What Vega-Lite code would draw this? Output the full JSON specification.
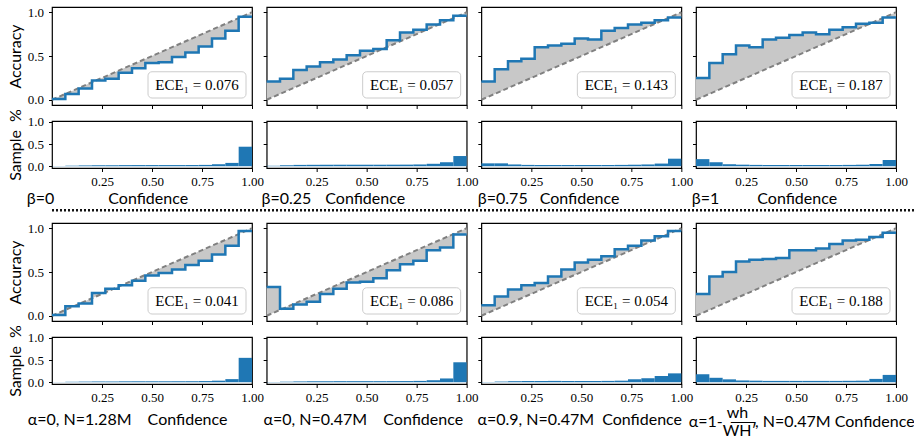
{
  "$schema": "https://vega.github.io/schema/vega-lite/v6.json",
  "background": "white",
  "padding": {"left": 6, "top": 5, "right": 0, "bottom": 0},
  "datasets": {
    "edges": [
      {"i": 1, "x0": 0, "x1": 0.0667}, {"i": 2, "x0": 0.0667, "x1": 0.1333}, {"i": 3, "x0": 0.1333, "x1": 0.2},
      {"i": 4, "x0": 0.2, "x1": 0.2667}, {"i": 5, "x0": 0.2667, "x1": 0.3333}, {"i": 6, "x0": 0.3333, "x1": 0.4},
      {"i": 7, "x0": 0.4, "x1": 0.4667}, {"i": 8, "x0": 0.4667, "x1": 0.5333}, {"i": 9, "x0": 0.5333, "x1": 0.6},
      {"i": 10, "x0": 0.6, "x1": 0.6667}, {"i": 11, "x0": 0.6667, "x1": 0.7333}, {"i": 12, "x0": 0.7333, "x1": 0.8},
      {"i": 13, "x0": 0.8, "x1": 0.8667}, {"i": 14, "x0": 0.8667, "x1": 0.9333}, {"i": 15, "x0": 0.9333, "x1": 1}
    ],
    "ece": [
      {"g": "b0", "ece": 0.076}, {"g": "b025", "ece": 0.057}, {"g": "b075", "ece": 0.143}, {"g": "b1", "ece": 0.187},
      {"g": "a0l", "ece": 0.041}, {"g": "a0s", "ece": 0.086}, {"g": "a09", "ece": 0.054}, {"g": "aw", "ece": 0.188}
    ],
    "bins": [
      {"g": "b0", "i": 1, "acc": 0.01, "n": 0.004}, {"g": "b0", "i": 2, "acc": 0.065, "n": 0.012}, {"g": "b0", "i": 3, "acc": 0.13, "n": 0.018},
      {"g": "b0", "i": 4, "acc": 0.22, "n": 0.022}, {"g": "b0", "i": 5, "acc": 0.24, "n": 0.024}, {"g": "b0", "i": 6, "acc": 0.31, "n": 0.025},
      {"g": "b0", "i": 7, "acc": 0.36, "n": 0.026}, {"g": "b0", "i": 8, "acc": 0.42, "n": 0.026}, {"g": "b0", "i": 9, "acc": 0.43, "n": 0.026},
      {"g": "b0", "i": 10, "acc": 0.49, "n": 0.026}, {"g": "b0", "i": 11, "acc": 0.54, "n": 0.027}, {"g": "b0", "i": 12, "acc": 0.61, "n": 0.03},
      {"g": "b0", "i": 13, "acc": 0.70, "n": 0.045}, {"g": "b0", "i": 14, "acc": 0.79, "n": 0.075}, {"g": "b0", "i": 15, "acc": 0.95, "n": 0.44},

      {"g": "b025", "i": 1, "acc": 0.21, "n": 0.01}, {"g": "b025", "i": 2, "acc": 0.24, "n": 0.022}, {"g": "b025", "i": 3, "acc": 0.34, "n": 0.03},
      {"g": "b025", "i": 4, "acc": 0.38, "n": 0.032}, {"g": "b025", "i": 5, "acc": 0.43, "n": 0.034}, {"g": "b025", "i": 6, "acc": 0.46, "n": 0.034},
      {"g": "b025", "i": 7, "acc": 0.51, "n": 0.034}, {"g": "b025", "i": 8, "acc": 0.56, "n": 0.034}, {"g": "b025", "i": 9, "acc": 0.58, "n": 0.034},
      {"g": "b025", "i": 10, "acc": 0.68, "n": 0.035}, {"g": "b025", "i": 11, "acc": 0.77, "n": 0.036}, {"g": "b025", "i": 12, "acc": 0.80, "n": 0.04},
      {"g": "b025", "i": 13, "acc": 0.86, "n": 0.055}, {"g": "b025", "i": 14, "acc": 0.91, "n": 0.09}, {"g": "b025", "i": 15, "acc": 0.96, "n": 0.23},

      {"g": "b075", "i": 1, "acc": 0.21, "n": 0.065}, {"g": "b075", "i": 2, "acc": 0.35, "n": 0.065}, {"g": "b075", "i": 3, "acc": 0.44, "n": 0.04},
      {"g": "b075", "i": 4, "acc": 0.47, "n": 0.03}, {"g": "b075", "i": 5, "acc": 0.60, "n": 0.028}, {"g": "b075", "i": 6, "acc": 0.62, "n": 0.028},
      {"g": "b075", "i": 7, "acc": 0.64, "n": 0.028}, {"g": "b075", "i": 8, "acc": 0.70, "n": 0.028}, {"g": "b075", "i": 9, "acc": 0.69, "n": 0.028},
      {"g": "b075", "i": 10, "acc": 0.79, "n": 0.028}, {"g": "b075", "i": 11, "acc": 0.82, "n": 0.03}, {"g": "b075", "i": 12, "acc": 0.86, "n": 0.034},
      {"g": "b075", "i": 13, "acc": 0.88, "n": 0.04}, {"g": "b075", "i": 14, "acc": 0.91, "n": 0.06}, {"g": "b075", "i": 15, "acc": 0.94, "n": 0.17},

      {"g": "b1", "i": 1, "acc": 0.25, "n": 0.16}, {"g": "b1", "i": 2, "acc": 0.42, "n": 0.09}, {"g": "b1", "i": 3, "acc": 0.52, "n": 0.045},
      {"g": "b1", "i": 4, "acc": 0.62, "n": 0.035}, {"g": "b1", "i": 5, "acc": 0.60, "n": 0.03}, {"g": "b1", "i": 6, "acc": 0.69, "n": 0.028},
      {"g": "b1", "i": 7, "acc": 0.71, "n": 0.028}, {"g": "b1", "i": 8, "acc": 0.74, "n": 0.028}, {"g": "b1", "i": 9, "acc": 0.77, "n": 0.028},
      {"g": "b1", "i": 10, "acc": 0.75, "n": 0.028}, {"g": "b1", "i": 11, "acc": 0.80, "n": 0.028}, {"g": "b1", "i": 12, "acc": 0.83, "n": 0.03},
      {"g": "b1", "i": 13, "acc": 0.87, "n": 0.034}, {"g": "b1", "i": 14, "acc": 0.88, "n": 0.05}, {"g": "b1", "i": 15, "acc": 0.94, "n": 0.14},

      {"g": "a0l", "i": 1, "acc": 0.01, "n": 0.003}, {"g": "a0l", "i": 2, "acc": 0.11, "n": 0.01}, {"g": "a0l", "i": 3, "acc": 0.14, "n": 0.014},
      {"g": "a0l", "i": 4, "acc": 0.26, "n": 0.017}, {"g": "a0l", "i": 5, "acc": 0.31, "n": 0.019}, {"g": "a0l", "i": 6, "acc": 0.35, "n": 0.02},
      {"g": "a0l", "i": 7, "acc": 0.40, "n": 0.021}, {"g": "a0l", "i": 8, "acc": 0.46, "n": 0.021}, {"g": "a0l", "i": 9, "acc": 0.49, "n": 0.021},
      {"g": "a0l", "i": 10, "acc": 0.53, "n": 0.022}, {"g": "a0l", "i": 11, "acc": 0.58, "n": 0.023}, {"g": "a0l", "i": 12, "acc": 0.63, "n": 0.026},
      {"g": "a0l", "i": 13, "acc": 0.70, "n": 0.035}, {"g": "a0l", "i": 14, "acc": 0.80, "n": 0.07}, {"g": "a0l", "i": 15, "acc": 0.97, "n": 0.55},

      {"g": "a0s", "i": 1, "acc": 0.33, "n": 0.005}, {"g": "a0s", "i": 2, "acc": 0.08, "n": 0.012}, {"g": "a0s", "i": 3, "acc": 0.13, "n": 0.018},
      {"g": "a0s", "i": 4, "acc": 0.16, "n": 0.022}, {"g": "a0s", "i": 5, "acc": 0.25, "n": 0.024}, {"g": "a0s", "i": 6, "acc": 0.31, "n": 0.024},
      {"g": "a0s", "i": 7, "acc": 0.38, "n": 0.024}, {"g": "a0s", "i": 8, "acc": 0.39, "n": 0.024}, {"g": "a0s", "i": 9, "acc": 0.43, "n": 0.024},
      {"g": "a0s", "i": 10, "acc": 0.52, "n": 0.025}, {"g": "a0s", "i": 11, "acc": 0.59, "n": 0.026}, {"g": "a0s", "i": 12, "acc": 0.63, "n": 0.03},
      {"g": "a0s", "i": 13, "acc": 0.75, "n": 0.045}, {"g": "a0s", "i": 14, "acc": 0.78, "n": 0.085}, {"g": "a0s", "i": 15, "acc": 0.93, "n": 0.45},

      {"g": "a09", "i": 1, "acc": 0.12, "n": 0.005}, {"g": "a09", "i": 2, "acc": 0.22, "n": 0.015}, {"g": "a09", "i": 3, "acc": 0.30, "n": 0.024},
      {"g": "a09", "i": 4, "acc": 0.35, "n": 0.028}, {"g": "a09", "i": 5, "acc": 0.375, "n": 0.03}, {"g": "a09", "i": 6, "acc": 0.45, "n": 0.03},
      {"g": "a09", "i": 7, "acc": 0.53, "n": 0.028}, {"g": "a09", "i": 8, "acc": 0.61, "n": 0.028}, {"g": "a09", "i": 9, "acc": 0.64, "n": 0.028},
      {"g": "a09", "i": 10, "acc": 0.68, "n": 0.03}, {"g": "a09", "i": 11, "acc": 0.76, "n": 0.035}, {"g": "a09", "i": 12, "acc": 0.80, "n": 0.067},
      {"g": "a09", "i": 13, "acc": 0.86, "n": 0.09}, {"g": "a09", "i": 14, "acc": 0.91, "n": 0.14}, {"g": "a09", "i": 15, "acc": 0.97, "n": 0.2},

      {"g": "aw", "i": 1, "acc": 0.25, "n": 0.18}, {"g": "aw", "i": 2, "acc": 0.45, "n": 0.1}, {"g": "aw", "i": 3, "acc": 0.50, "n": 0.065},
      {"g": "aw", "i": 4, "acc": 0.62, "n": 0.04}, {"g": "aw", "i": 5, "acc": 0.64, "n": 0.035}, {"g": "aw", "i": 6, "acc": 0.65, "n": 0.03},
      {"g": "aw", "i": 7, "acc": 0.66, "n": 0.03}, {"g": "aw", "i": 8, "acc": 0.75, "n": 0.03}, {"g": "aw", "i": 9, "acc": 0.75, "n": 0.03},
      {"g": "aw", "i": 10, "acc": 0.77, "n": 0.03}, {"g": "aw", "i": 11, "acc": 0.82, "n": 0.03}, {"g": "aw", "i": 12, "acc": 0.86, "n": 0.032},
      {"g": "aw", "i": 13, "acc": 0.87, "n": 0.035}, {"g": "aw", "i": 14, "acc": 0.90, "n": 0.075}, {"g": "aw", "i": 15, "acc": 0.95, "n": 0.165}
    ]
  },
  "config": {
    "view": {"stroke": "black", "strokeWidth": 1.2},
    "style": {"guide-label": {"font": "Liberation Serif"}},
    "axis": {
      "domain": false, "grid": false, "ticks": true, "tickColor": "black", "tickSize": 3.5, "tickWidth": 1,
      "labelFont": "Liberation Serif", "labelFontSize": 13, "labelColor": "black", "labelFlush": false, "labelOverlap": false, "labelPadding": 4,
      "titleFont": "Lato", "titleFontSize": 16, "titleFontWeight": "normal", "titleColor": "black", "titlePadding": 2, "titleLineHeight": 11
    },
    "axisX": {"labelFont": "Liberation Serif"},
    "axisY": {"labelFont": "Liberation Serif", "labelPadding": 5, "titlePadding": 4}
  },
  "spacing": 0,
  "vconcat": [
    {
      "spacing": -2,
      "vconcat": [
        {
          "bounds": "flush", "spacing": 14.67,
          "hconcat": [
            {"width": 200, "height": 98, "layer": [
              {"data": {"name": "bins"}, "transform": [{"filter": "datum.g === 'b0'"}, {"lookup": "i", "from": {"data": {"name": "edges"}, "key": "i", "fields": ["x0", "x1"]}}, {"fold": ["x0", "x1"], "as": ["edge", "cx"]}],
               "mark": {"type": "area", "color": "#c8c8c8"},
               "encoding": {"x": {"field": "cx", "type": "quantitative", "scale": {"domain": [0, 1], "nice": false}, "axis": {"values": [0.25, 0.5, 0.75, 1], "labels": false, "title": null}},
                 "y": {"field": "acc", "type": "quantitative", "scale": {"domain": [-0.06, 1.06], "nice": false}, "axis": {"values": [0, 0.5, 1], "format": ".1f", "labelFont": "Liberation Serif", "title": "Accuracy"}},
                 "y2": {"field": "cx"}, "order": [{"field": "i", "type": "quantitative"}, {"field": "edge", "type": "nominal"}]}},
              {"data": {"values": [{}]}, "mark": {"type": "rule", "color": "#808080", "strokeDash": [5, 3], "strokeWidth": 2},
               "encoding": {"x": {"datum": 0}, "x2": {"datum": 1}, "y": {"datum": 0}, "y2": {"datum": 1}}},
              {"data": {"name": "bins"}, "transform": [{"filter": "datum.g === 'b0'"}, {"lookup": "i", "from": {"data": {"name": "edges"}, "key": "i", "fields": ["x0", "x1"]}}, {"fold": ["x0", "x1"], "as": ["edge", "cx"]}],
               "mark": {"type": "line", "color": "#1f77b4", "strokeWidth": 2.5},
               "encoding": {"x": {"field": "cx", "type": "quantitative"}, "y": {"field": "acc", "type": "quantitative"},
                 "order": [{"field": "i", "type": "quantitative"}, {"field": "edge", "type": "nominal"}]}},
              {"data": {"name": "ece"}, "transform": [{"filter": "datum.g === 'b0'"}, {"calculate": "'ECE₁ = ' + format(datum.ece, '.3f')", "as": "lab"}],
               "layer": [
                 {"mark": {"type": "rect", "fill": "white", "stroke": "#cccccc", "strokeWidth": 1, "cornerRadius": 4},
                  "encoding": {"x": {"datum": 0.48}, "x2": {"datum": 0.97}, "y": {"datum": 0.02}, "y2": {"datum": 0.32}}},
                 {"mark": {"type": "text", "font": "Liberation Serif", "fontSize": 15, "color": "black"},
                  "encoding": {"x": {"datum": 0.725}, "y": {"datum": 0.17}, "text": {"field": "lab"}}}
               ]}
            ]},
            {"width": 200, "height": 98, "layer": [
              {"data": {"name": "bins"}, "transform": [{"filter": "datum.g === 'b025'"}, {"lookup": "i", "from": {"data": {"name": "edges"}, "key": "i", "fields": ["x0", "x1"]}}, {"fold": ["x0", "x1"], "as": ["edge", "cx"]}],
               "mark": {"type": "area", "color": "#c8c8c8"},
               "encoding": {"x": {"field": "cx", "type": "quantitative", "scale": {"domain": [0, 1], "nice": false}, "axis": {"values": [0.25, 0.5, 0.75, 1], "labels": false, "title": null}},
                 "y": {"field": "acc", "type": "quantitative", "scale": {"domain": [-0.06, 1.06], "nice": false}, "axis": {"values": [0, 0.5, 1], "labels": false, "title": null}},
                 "y2": {"field": "cx"}, "order": [{"field": "i", "type": "quantitative"}, {"field": "edge", "type": "nominal"}]}},
              {"data": {"values": [{}]}, "mark": {"type": "rule", "color": "#808080", "strokeDash": [5, 3], "strokeWidth": 2},
               "encoding": {"x": {"datum": 0}, "x2": {"datum": 1}, "y": {"datum": 0}, "y2": {"datum": 1}}},
              {"data": {"name": "bins"}, "transform": [{"filter": "datum.g === 'b025'"}, {"lookup": "i", "from": {"data": {"name": "edges"}, "key": "i", "fields": ["x0", "x1"]}}, {"fold": ["x0", "x1"], "as": ["edge", "cx"]}],
               "mark": {"type": "line", "color": "#1f77b4", "strokeWidth": 2.5},
               "encoding": {"x": {"field": "cx", "type": "quantitative"}, "y": {"field": "acc", "type": "quantitative"},
                 "order": [{"field": "i", "type": "quantitative"}, {"field": "edge", "type": "nominal"}]}},
              {"data": {"name": "ece"}, "transform": [{"filter": "datum.g === 'b025'"}, {"calculate": "'ECE₁ = ' + format(datum.ece, '.3f')", "as": "lab"}],
               "layer": [
                 {"mark": {"type": "rect", "fill": "white", "stroke": "#cccccc", "strokeWidth": 1, "cornerRadius": 4},
                  "encoding": {"x": {"datum": 0.48}, "x2": {"datum": 0.97}, "y": {"datum": 0.02}, "y2": {"datum": 0.32}}},
                 {"mark": {"type": "text", "font": "Liberation Serif", "fontSize": 15, "color": "black"},
                  "encoding": {"x": {"datum": 0.725}, "y": {"datum": 0.17}, "text": {"field": "lab"}}}
               ]}
            ]},
            {"width": 200, "height": 98, "layer": [
              {"data": {"name": "bins"}, "transform": [{"filter": "datum.g === 'b075'"}, {"lookup": "i", "from": {"data": {"name": "edges"}, "key": "i", "fields": ["x0", "x1"]}}, {"fold": ["x0", "x1"], "as": ["edge", "cx"]}],
               "mark": {"type": "area", "color": "#c8c8c8"},
               "encoding": {"x": {"field": "cx", "type": "quantitative", "scale": {"domain": [0, 1], "nice": false}, "axis": {"values": [0.25, 0.5, 0.75, 1], "labels": false, "title": null}},
                 "y": {"field": "acc", "type": "quantitative", "scale": {"domain": [-0.06, 1.06], "nice": false}, "axis": {"values": [0, 0.5, 1], "labels": false, "title": null}},
                 "y2": {"field": "cx"}, "order": [{"field": "i", "type": "quantitative"}, {"field": "edge", "type": "nominal"}]}},
              {"data": {"values": [{}]}, "mark": {"type": "rule", "color": "#808080", "strokeDash": [5, 3], "strokeWidth": 2},
               "encoding": {"x": {"datum": 0}, "x2": {"datum": 1}, "y": {"datum": 0}, "y2": {"datum": 1}}},
              {"data": {"name": "bins"}, "transform": [{"filter": "datum.g === 'b075'"}, {"lookup": "i", "from": {"data": {"name": "edges"}, "key": "i", "fields": ["x0", "x1"]}}, {"fold": ["x0", "x1"], "as": ["edge", "cx"]}],
               "mark": {"type": "line", "color": "#1f77b4", "strokeWidth": 2.5},
               "encoding": {"x": {"field": "cx", "type": "quantitative"}, "y": {"field": "acc", "type": "quantitative"},
                 "order": [{"field": "i", "type": "quantitative"}, {"field": "edge", "type": "nominal"}]}},
              {"data": {"name": "ece"}, "transform": [{"filter": "datum.g === 'b075'"}, {"calculate": "'ECE₁ = ' + format(datum.ece, '.3f')", "as": "lab"}],
               "layer": [
                 {"mark": {"type": "rect", "fill": "white", "stroke": "#cccccc", "strokeWidth": 1, "cornerRadius": 4},
                  "encoding": {"x": {"datum": 0.48}, "x2": {"datum": 0.97}, "y": {"datum": 0.02}, "y2": {"datum": 0.32}}},
                 {"mark": {"type": "text", "font": "Liberation Serif", "fontSize": 15, "color": "black"},
                  "encoding": {"x": {"datum": 0.725}, "y": {"datum": 0.17}, "text": {"field": "lab"}}}
               ]}
            ]},
            {"width": 200, "height": 98, "layer": [
              {"data": {"name": "bins"}, "transform": [{"filter": "datum.g === 'b1'"}, {"lookup": "i", "from": {"data": {"name": "edges"}, "key": "i", "fields": ["x0", "x1"]}}, {"fold": ["x0", "x1"], "as": ["edge", "cx"]}],
               "mark": {"type": "area", "color": "#c8c8c8"},
               "encoding": {"x": {"field": "cx", "type": "quantitative", "scale": {"domain": [0, 1], "nice": false}, "axis": {"values": [0.25, 0.5, 0.75, 1], "labels": false, "title": null}},
                 "y": {"field": "acc", "type": "quantitative", "scale": {"domain": [-0.06, 1.06], "nice": false}, "axis": {"values": [0, 0.5, 1], "labels": false, "title": null}},
                 "y2": {"field": "cx"}, "order": [{"field": "i", "type": "quantitative"}, {"field": "edge", "type": "nominal"}]}},
              {"data": {"values": [{}]}, "mark": {"type": "rule", "color": "#808080", "strokeDash": [5, 3], "strokeWidth": 2},
               "encoding": {"x": {"datum": 0}, "x2": {"datum": 1}, "y": {"datum": 0}, "y2": {"datum": 1}}},
              {"data": {"name": "bins"}, "transform": [{"filter": "datum.g === 'b1'"}, {"lookup": "i", "from": {"data": {"name": "edges"}, "key": "i", "fields": ["x0", "x1"]}}, {"fold": ["x0", "x1"], "as": ["edge", "cx"]}],
               "mark": {"type": "line", "color": "#1f77b4", "strokeWidth": 2.5},
               "encoding": {"x": {"field": "cx", "type": "quantitative"}, "y": {"field": "acc", "type": "quantitative"},
                 "order": [{"field": "i", "type": "quantitative"}, {"field": "edge", "type": "nominal"}]}},
              {"data": {"name": "ece"}, "transform": [{"filter": "datum.g === 'b1'"}, {"calculate": "'ECE₁ = ' + format(datum.ece, '.3f')", "as": "lab"}],
               "layer": [
                 {"mark": {"type": "rect", "fill": "white", "stroke": "#cccccc", "strokeWidth": 1, "cornerRadius": 4},
                  "encoding": {"x": {"datum": 0.48}, "x2": {"datum": 0.97}, "y": {"datum": 0.02}, "y2": {"datum": 0.32}}},
                 {"mark": {"type": "text", "font": "Liberation Serif", "fontSize": 15, "color": "black"},
                  "encoding": {"x": {"datum": 0.725}, "y": {"datum": 0.17}, "text": {"field": "lab"}}}
               ]}
            ]}
          ]
        },
        {
          "bounds": "flush", "spacing": 14.67,
          "hconcat": [
            {"width": 200, "height": 47, "data": {"name": "bins"}, "transform": [{"filter": "datum.g === 'b0'"}, {"lookup": "i", "from": {"data": {"name": "edges"}, "key": "i", "fields": ["x0", "x1"]}}],
             "mark": {"type": "rect", "color": "#1f77b4"},
             "encoding": {"x": {"field": "x0", "type": "quantitative", "scale": {"domain": [0, 1], "nice": false}, "axis": {"values": [0.25, 0.5, 0.75, 1], "format": ".2f", "labelFont": "Liberation Serif", "title": "β=0\u2003\u2003\u2003\u2002\u2002\u2009Confidence", "titleAnchor": "start", "titleAlign": "left", "titleX": -25.7}},
               "x2": {"field": "x1"},
               "y": {"field": "n", "type": "quantitative", "scale": {"domain": [-0.04, 1.02], "nice": false}, "axis": {"values": [0, 0.5, 1], "format": ".1f", "labelFont": "Liberation Serif", "title": "Sample\u2002%"}},
               "y2": {"datum": 0}}},
            {"width": 200, "height": 47, "data": {"name": "bins"}, "transform": [{"filter": "datum.g === 'b025'"}, {"lookup": "i", "from": {"data": {"name": "edges"}, "key": "i", "fields": ["x0", "x1"]}}],
             "mark": {"type": "rect", "color": "#1f77b4"},
             "encoding": {"x": {"field": "x0", "type": "quantitative", "scale": {"domain": [0, 1], "nice": false}, "axis": {"values": [0.25, 0.5, 0.75, 1], "format": ".2f", "labelFont": "Liberation Serif", "title": "β=0.25\u2003\u2009Confidence", "titleAnchor": "start", "titleAlign": "left", "titleX": -5.7}},
               "x2": {"field": "x1"},
               "y": {"field": "n", "type": "quantitative", "scale": {"domain": [-0.04, 1.02], "nice": false}, "axis": {"values": [0, 0.5, 1], "labels": false, "title": null}},
               "y2": {"datum": 0}}},
            {"width": 200, "height": 47, "data": {"name": "bins"}, "transform": [{"filter": "datum.g === 'b075'"}, {"lookup": "i", "from": {"data": {"name": "edges"}, "key": "i", "fields": ["x0", "x1"]}}],
             "mark": {"type": "rect", "color": "#1f77b4"},
             "encoding": {"x": {"field": "x0", "type": "quantitative", "scale": {"domain": [0, 1], "nice": false}, "axis": {"values": [0.25, 0.5, 0.75, 1], "format": ".2f", "labelFont": "Liberation Serif", "title": "β=0.75\u2003Confidence", "titleAnchor": "start", "titleAlign": "left", "titleX": -4}},
               "x2": {"field": "x1"},
               "y": {"field": "n", "type": "quantitative", "scale": {"domain": [-0.04, 1.02], "nice": false}, "axis": {"values": [0, 0.5, 1], "labels": false, "title": null}},
               "y2": {"datum": 0}}},
            {"width": 200, "height": 47, "data": {"name": "bins"}, "transform": [{"filter": "datum.g === 'b1'"}, {"lookup": "i", "from": {"data": {"name": "edges"}, "key": "i", "fields": ["x0", "x1"]}}],
             "mark": {"type": "rect", "color": "#1f77b4"},
             "encoding": {"x": {"field": "x0", "type": "quantitative", "scale": {"domain": [0, 1], "nice": false}, "axis": {"values": [0.25, 0.5, 0.75, 1], "format": ".2f", "labelFont": "Liberation Serif", "title": "β=1\u2003\u2003\u2003\u2009Confidence", "titleAnchor": "start", "titleAlign": "left", "titleX": -4.7}},
               "x2": {"field": "x1"},
               "y": {"field": "n", "type": "quantitative", "scale": {"domain": [-0.04, 1.02], "nice": false}, "axis": {"values": [0, 0.5, 1], "labels": false, "title": null}},
               "y2": {"datum": 0}}}
          ]
        }
      ]
    },
    {
      "width": 908, "height": 13, "view": {"stroke": null},
      "data": {"values": [{}]},
      "mark": {"type": "rule", "color": "#111111", "strokeDash": [2, 2], "strokeWidth": 2.5},
      "encoding": {"x": {"datum": 0, "scale": {"domain": [0, 1]}, "axis": null}, "x2": {"datum": 1}, "y": {"datum": 0.83, "scale": {"domain": [0, 1]}, "axis": null}}
    },
    {
      "spacing": -2,
      "vconcat": [
        {
          "bounds": "flush", "spacing": 14.67,
          "hconcat": [
            {"width": 200, "height": 98, "layer": [
              {"data": {"name": "bins"}, "transform": [{"filter": "datum.g === 'a0l'"}, {"lookup": "i", "from": {"data": {"name": "edges"}, "key": "i", "fields": ["x0", "x1"]}}, {"fold": ["x0", "x1"], "as": ["edge", "cx"]}],
               "mark": {"type": "area", "color": "#c8c8c8"},
               "encoding": {"x": {"field": "cx", "type": "quantitative", "scale": {"domain": [0, 1], "nice": false}, "axis": {"values": [0.25, 0.5, 0.75, 1], "labels": false, "title": null}},
                 "y": {"field": "acc", "type": "quantitative", "scale": {"domain": [-0.06, 1.06], "nice": false}, "axis": {"values": [0, 0.5, 1], "format": ".1f", "labelFont": "Liberation Serif", "title": "Accuracy"}},
                 "y2": {"field": "cx"}, "order": [{"field": "i", "type": "quantitative"}, {"field": "edge", "type": "nominal"}]}},
              {"data": {"values": [{}]}, "mark": {"type": "rule", "color": "#808080", "strokeDash": [5, 3], "strokeWidth": 2},
               "encoding": {"x": {"datum": 0}, "x2": {"datum": 1}, "y": {"datum": 0}, "y2": {"datum": 1}}},
              {"data": {"name": "bins"}, "transform": [{"filter": "datum.g === 'a0l'"}, {"lookup": "i", "from": {"data": {"name": "edges"}, "key": "i", "fields": ["x0", "x1"]}}, {"fold": ["x0", "x1"], "as": ["edge", "cx"]}],
               "mark": {"type": "line", "color": "#1f77b4", "strokeWidth": 2.5},
               "encoding": {"x": {"field": "cx", "type": "quantitative"}, "y": {"field": "acc", "type": "quantitative"},
                 "order": [{"field": "i", "type": "quantitative"}, {"field": "edge", "type": "nominal"}]}},
              {"data": {"name": "ece"}, "transform": [{"filter": "datum.g === 'a0l'"}, {"calculate": "'ECE₁ = ' + format(datum.ece, '.3f')", "as": "lab"}],
               "layer": [
                 {"mark": {"type": "rect", "fill": "white", "stroke": "#cccccc", "strokeWidth": 1, "cornerRadius": 4},
                  "encoding": {"x": {"datum": 0.48}, "x2": {"datum": 0.97}, "y": {"datum": 0.02}, "y2": {"datum": 0.32}}},
                 {"mark": {"type": "text", "font": "Liberation Serif", "fontSize": 15, "color": "black"},
                  "encoding": {"x": {"datum": 0.725}, "y": {"datum": 0.17}, "text": {"field": "lab"}}}
               ]}
            ]},
            {"width": 200, "height": 98, "layer": [
              {"data": {"name": "bins"}, "transform": [{"filter": "datum.g === 'a0s'"}, {"lookup": "i", "from": {"data": {"name": "edges"}, "key": "i", "fields": ["x0", "x1"]}}, {"fold": ["x0", "x1"], "as": ["edge", "cx"]}],
               "mark": {"type": "area", "color": "#c8c8c8"},
               "encoding": {"x": {"field": "cx", "type": "quantitative", "scale": {"domain": [0, 1], "nice": false}, "axis": {"values": [0.25, 0.5, 0.75, 1], "labels": false, "title": null}},
                 "y": {"field": "acc", "type": "quantitative", "scale": {"domain": [-0.06, 1.06], "nice": false}, "axis": {"values": [0, 0.5, 1], "labels": false, "title": null}},
                 "y2": {"field": "cx"}, "order": [{"field": "i", "type": "quantitative"}, {"field": "edge", "type": "nominal"}]}},
              {"data": {"values": [{}]}, "mark": {"type": "rule", "color": "#808080", "strokeDash": [5, 3], "strokeWidth": 2},
               "encoding": {"x": {"datum": 0}, "x2": {"datum": 1}, "y": {"datum": 0}, "y2": {"datum": 1}}},
              {"data": {"name": "bins"}, "transform": [{"filter": "datum.g === 'a0s'"}, {"lookup": "i", "from": {"data": {"name": "edges"}, "key": "i", "fields": ["x0", "x1"]}}, {"fold": ["x0", "x1"], "as": ["edge", "cx"]}],
               "mark": {"type": "line", "color": "#1f77b4", "strokeWidth": 2.5},
               "encoding": {"x": {"field": "cx", "type": "quantitative"}, "y": {"field": "acc", "type": "quantitative"},
                 "order": [{"field": "i", "type": "quantitative"}, {"field": "edge", "type": "nominal"}]}},
              {"data": {"name": "ece"}, "transform": [{"filter": "datum.g === 'a0s'"}, {"calculate": "'ECE₁ = ' + format(datum.ece, '.3f')", "as": "lab"}],
               "layer": [
                 {"mark": {"type": "rect", "fill": "white", "stroke": "#cccccc", "strokeWidth": 1, "cornerRadius": 4},
                  "encoding": {"x": {"datum": 0.48}, "x2": {"datum": 0.97}, "y": {"datum": 0.02}, "y2": {"datum": 0.32}}},
                 {"mark": {"type": "text", "font": "Liberation Serif", "fontSize": 15, "color": "black"},
                  "encoding": {"x": {"datum": 0.725}, "y": {"datum": 0.17}, "text": {"field": "lab"}}}
               ]}
            ]},
            {"width": 200, "height": 98, "layer": [
              {"data": {"name": "bins"}, "transform": [{"filter": "datum.g === 'a09'"}, {"lookup": "i", "from": {"data": {"name": "edges"}, "key": "i", "fields": ["x0", "x1"]}}, {"fold": ["x0", "x1"], "as": ["edge", "cx"]}],
               "mark": {"type": "area", "color": "#c8c8c8"},
               "encoding": {"x": {"field": "cx", "type": "quantitative", "scale": {"domain": [0, 1], "nice": false}, "axis": {"values": [0.25, 0.5, 0.75, 1], "labels": false, "title": null}},
                 "y": {"field": "acc", "type": "quantitative", "scale": {"domain": [-0.06, 1.06], "nice": false}, "axis": {"values": [0, 0.5, 1], "labels": false, "title": null}},
                 "y2": {"field": "cx"}, "order": [{"field": "i", "type": "quantitative"}, {"field": "edge", "type": "nominal"}]}},
              {"data": {"values": [{}]}, "mark": {"type": "rule", "color": "#808080", "strokeDash": [5, 3], "strokeWidth": 2},
               "encoding": {"x": {"datum": 0}, "x2": {"datum": 1}, "y": {"datum": 0}, "y2": {"datum": 1}}},
              {"data": {"name": "bins"}, "transform": [{"filter": "datum.g === 'a09'"}, {"lookup": "i", "from": {"data": {"name": "edges"}, "key": "i", "fields": ["x0", "x1"]}}, {"fold": ["x0", "x1"], "as": ["edge", "cx"]}],
               "mark": {"type": "line", "color": "#1f77b4", "strokeWidth": 2.5},
               "encoding": {"x": {"field": "cx", "type": "quantitative"}, "y": {"field": "acc", "type": "quantitative"},
                 "order": [{"field": "i", "type": "quantitative"}, {"field": "edge", "type": "nominal"}]}},
              {"data": {"name": "ece"}, "transform": [{"filter": "datum.g === 'a09'"}, {"calculate": "'ECE₁ = ' + format(datum.ece, '.3f')", "as": "lab"}],
               "layer": [
                 {"mark": {"type": "rect", "fill": "white", "stroke": "#cccccc", "strokeWidth": 1, "cornerRadius": 4},
                  "encoding": {"x": {"datum": 0.48}, "x2": {"datum": 0.97}, "y": {"datum": 0.02}, "y2": {"datum": 0.32}}},
                 {"mark": {"type": "text", "font": "Liberation Serif", "fontSize": 15, "color": "black"},
                  "encoding": {"x": {"datum": 0.725}, "y": {"datum": 0.17}, "text": {"field": "lab"}}}
               ]}
            ]},
            {"width": 200, "height": 98, "layer": [
              {"data": {"name": "bins"}, "transform": [{"filter": "datum.g === 'aw'"}, {"lookup": "i", "from": {"data": {"name": "edges"}, "key": "i", "fields": ["x0", "x1"]}}, {"fold": ["x0", "x1"], "as": ["edge", "cx"]}],
               "mark": {"type": "area", "color": "#c8c8c8"},
               "encoding": {"x": {"field": "cx", "type": "quantitative", "scale": {"domain": [0, 1], "nice": false}, "axis": {"values": [0.25, 0.5, 0.75, 1], "labels": false, "title": null}},
                 "y": {"field": "acc", "type": "quantitative", "scale": {"domain": [-0.06, 1.06], "nice": false}, "axis": {"values": [0, 0.5, 1], "labels": false, "title": null}},
                 "y2": {"field": "cx"}, "order": [{"field": "i", "type": "quantitative"}, {"field": "edge", "type": "nominal"}]}},
              {"data": {"values": [{}]}, "mark": {"type": "rule", "color": "#808080", "strokeDash": [5, 3], "strokeWidth": 2},
               "encoding": {"x": {"datum": 0}, "x2": {"datum": 1}, "y": {"datum": 0}, "y2": {"datum": 1}}},
              {"data": {"name": "bins"}, "transform": [{"filter": "datum.g === 'aw'"}, {"lookup": "i", "from": {"data": {"name": "edges"}, "key": "i", "fields": ["x0", "x1"]}}, {"fold": ["x0", "x1"], "as": ["edge", "cx"]}],
               "mark": {"type": "line", "color": "#1f77b4", "strokeWidth": 2.5},
               "encoding": {"x": {"field": "cx", "type": "quantitative"}, "y": {"field": "acc", "type": "quantitative"},
                 "order": [{"field": "i", "type": "quantitative"}, {"field": "edge", "type": "nominal"}]}},
              {"data": {"name": "ece"}, "transform": [{"filter": "datum.g === 'aw'"}, {"calculate": "'ECE₁ = ' + format(datum.ece, '.3f')", "as": "lab"}],
               "layer": [
                 {"mark": {"type": "rect", "fill": "white", "stroke": "#cccccc", "strokeWidth": 1, "cornerRadius": 4},
                  "encoding": {"x": {"datum": 0.48}, "x2": {"datum": 0.97}, "y": {"datum": 0.02}, "y2": {"datum": 0.32}}},
                 {"mark": {"type": "text", "font": "Liberation Serif", "fontSize": 15, "color": "black"},
                  "encoding": {"x": {"datum": 0.725}, "y": {"datum": 0.17}, "text": {"field": "lab"}}}
               ]}
            ]}
          ]
        },
        {
          "bounds": "flush", "spacing": 14.67,
          "hconcat": [
            {"width": 200, "height": 47, "data": {"name": "bins"}, "transform": [{"filter": "datum.g === 'a0l'"}, {"lookup": "i", "from": {"data": {"name": "edges"}, "key": "i", "fields": ["x0", "x1"]}}],
             "mark": {"type": "rect", "color": "#1f77b4"},
             "encoding": {"x": {"field": "x0", "type": "quantitative", "scale": {"domain": [0, 1], "nice": false}, "axis": {"values": [0.25, 0.5, 0.75, 1], "format": ".2f", "labelFont": "Liberation Serif", "title": "α=0, N=1.28M\u2003\u00a0Confidence", "titleAnchor": "start", "titleAlign": "left", "titleX": -24.7, "titlePadding": 7}},
               "x2": {"field": "x1"},
               "y": {"field": "n", "type": "quantitative", "scale": {"domain": [-0.04, 1.02], "nice": false}, "axis": {"values": [0, 0.5, 1], "format": ".1f", "labelFont": "Liberation Serif", "title": "Sample\u2002%"}},
               "y2": {"datum": 0}}},
            {"width": 200, "height": 47, "data": {"name": "bins"}, "transform": [{"filter": "datum.g === 'a0s'"}, {"lookup": "i", "from": {"data": {"name": "edges"}, "key": "i", "fields": ["x0", "x1"]}}],
             "mark": {"type": "rect", "color": "#1f77b4"},
             "encoding": {"x": {"field": "x0", "type": "quantitative", "scale": {"domain": [0, 1], "nice": false}, "axis": {"values": [0.25, 0.5, 0.75, 1], "format": ".2f", "labelFont": "Liberation Serif", "title": "α=0, N=0.47M\u2003\u00a0Confidence", "titleAnchor": "start", "titleAlign": "left", "titleX": -3.7, "titlePadding": 7}},
               "x2": {"field": "x1"},
               "y": {"field": "n", "type": "quantitative", "scale": {"domain": [-0.04, 1.02], "nice": false}, "axis": {"values": [0, 0.5, 1], "labels": false, "title": null}},
               "y2": {"datum": 0}}},
            {"width": 200, "height": 47, "data": {"name": "bins"}, "transform": [{"filter": "datum.g === 'a09'"}, {"lookup": "i", "from": {"data": {"name": "edges"}, "key": "i", "fields": ["x0", "x1"]}}],
             "mark": {"type": "rect", "color": "#1f77b4"},
             "encoding": {"x": {"field": "x0", "type": "quantitative", "scale": {"domain": [0, 1], "nice": false}, "axis": {"values": [0.25, 0.5, 0.75, 1], "format": ".2f", "labelFont": "Liberation Serif", "title": "α=0.9, N=0.47M\u2002Confidence", "titleAnchor": "start", "titleAlign": "left", "titleX": -4.4, "titlePadding": 7}},
               "x2": {"field": "x1"},
               "y": {"field": "n", "type": "quantitative", "scale": {"domain": [-0.04, 1.02], "nice": false}, "axis": {"values": [0, 0.5, 1], "labels": false, "title": null}},
               "y2": {"datum": 0}}},
            {"width": 200, "height": 47, "data": {"name": "bins"}, "transform": [{"filter": "datum.g === 'aw'"}, {"lookup": "i", "from": {"data": {"name": "edges"}, "key": "i", "fields": ["x0", "x1"]}}],
             "mark": {"type": "rect", "color": "#1f77b4"},
             "encoding": {"x": {"field": "x0", "type": "quantitative", "scale": {"domain": [0, 1], "nice": false}, "axis": {"values": [0.25, 0.5, 0.75, 1], "format": ".2f", "labelFont": "Liberation Serif", "title": ["\u200b\u2003\u2003\u2009\u2009\u2009\u00a0\u00a0wh", "α=1-\u00a0\u00a0──, N=0.47M Confidence", "\u200b\u2003\u2002\u2009\u2009\u2009\u00a0\u00a0WH′"], "titleAnchor": "start", "titleAlign": "left", "titleX": -7.7, "titlePadding": 0, "titleLineHeight": 9}},
               "x2": {"field": "x1"},
               "y": {"field": "n", "type": "quantitative", "scale": {"domain": [-0.04, 1.02], "nice": false}, "axis": {"values": [0, 0.5, 1], "labels": false, "title": null}},
               "y2": {"datum": 0}}}
          ]
        }
      ]
    }
  ]
}
